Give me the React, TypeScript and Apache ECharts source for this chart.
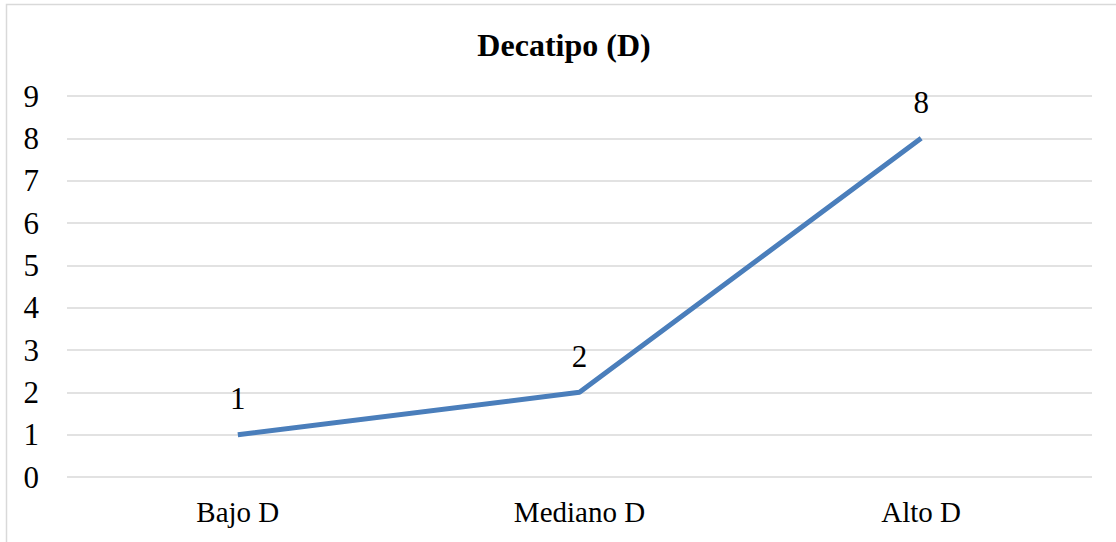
import React, { useEffect, useRef } from "react";
import * as echarts from "echarts";

const categories = ["Bajo D", "Mediano D", "Alto D"];
const values = [1, 2, 8];
const yTicks = { min: 0, max: 9, interval: 1 };
const titleText = "Decatipo (D)";

export default function App() {
  const ref = useRef<HTMLDivElement>(null);
  useEffect(() => {
    document.body.style.margin = "0";
    const chart = echarts.init(ref.current!, null, { renderer: "svg" });
    const font = "Liberation Serif";
    chart.setOption({
      animation: false,
      backgroundColor: "#ffffff",
      title: {
        text: titleText,
        left: 559,
        top: 24,
        textAlign: "center",
        textStyle: { fontFamily: font, fontWeight: "bold", fontSize: 32, color: "#000" },
      },
      graphic: [
        {
          type: "rect",
          shape: { x: 6.5, y: 4.5, width: 1200, height: 600 },
          style: { fill: "none", stroke: "#d9d9d9", lineWidth: 1.5 },
          silent: true,
        },
      ],
      grid: { left: 67, right: 24, top: 96, bottom: 65 },
      xAxis: {
        type: "category",
        data: categories,
        boundaryGap: true,
        axisLine: { show: false },
        axisTick: { show: false },
        axisLabel: { fontFamily: font, fontSize: 29, color: "#000", margin: 20 },
      },
      yAxis: {
        type: "value",
        min: yTicks.min,
        max: yTicks.max,
        interval: yTicks.interval,
        axisLine: { show: false },
        axisTick: { show: false },
        axisLabel: { fontFamily: font, fontSize: 31, color: "#000", margin: 28 },
        splitLine: { lineStyle: { color: "#d9d9d9", width: 1.5 } },
      },
      series: [
        {
          type: "line",
          data: values,
          symbol: "circle",
          symbolSize: 1,
          showSymbol: true,
          itemStyle: { opacity: 0 },
          lineStyle: { color: "#4a7ebb", width: 5 },
          label: {
            show: true,
            position: "top",
            distance: 20,
            fontFamily: font,
            fontSize: 31,
            color: "#000",
            opacity: 1,
          },
        },
      ],
    });
    return () => chart.dispose();
  }, []);
  return <div ref={ref} style={{ position: "fixed", left: 0, top: 0, width: 1116, height: 542 }} />;
}
